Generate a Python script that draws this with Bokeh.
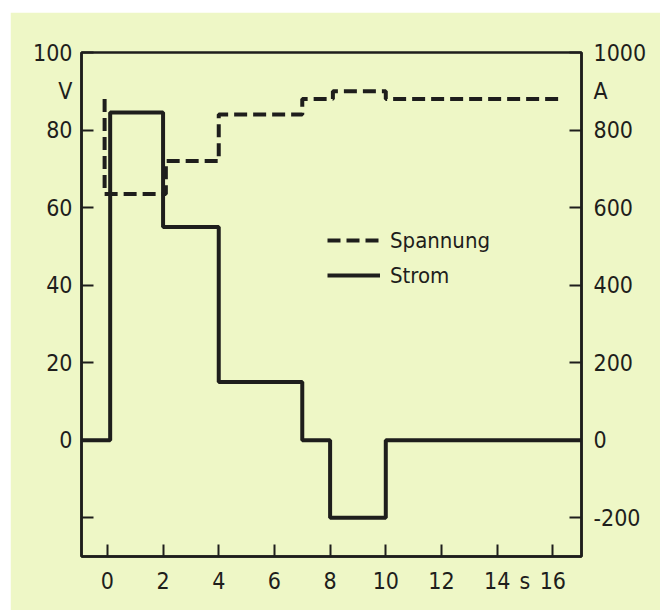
from bokeh.plotting import figure
from bokeh.models import Range1d, LinearAxis, FixedTicker, Legend
from bokeh.embed import file_html
from bokeh.resources import INLINE

# ---- data ----
t_spannung = [-0.1, -0.1, 2.1, 2.1, 4.0, 4.0, 7.0, 7.0, 8.1, 8.1, 10.0, 10.0, 16.2]
spannung_V = [88, 63.5, 63.5, 72, 72, 84, 84, 88, 88, 90, 90, 88, 88]

t_strom = [-0.93, 0.1, 0.1, 2.0, 2.0, 4.0, 4.0, 7.0, 7.0, 8.0, 8.0, 10.0, 10.0, 17.03]
strom_A = [0, 0, 845, 845, 550, 550, 150, 150, 0, 0, -200, -200, 0, 0]

x_ticks = [0, 2, 4, 6, 8, 10, 12, 14, 16]
v_ticks = [-20, 0, 20, 40, 60, 80, 100]
a_ticks = [-200, 0, 200, 400, 600, 800, 1000]

x_labels = {0: "0", 2: "2", 4: "4", 6: "6", 8: "8", 10: "10", 12: "12", 14: "14", 15: "s", 16: "16"}
v_labels = {0: "0", 20: "20", 40: "40", 60: "60", 80: "80", 90: "V", 100: "100"}
a_labels = {-200: "-200", 0: "0", 200: "200", 400: "400", 600: "600", 800: "800",
            900: "A", 1000: "1000"}

BG = "#eef7c6"
INK = "#1e1e1c"
FONT = "'DejaVu Sans Condensed', 'DejaVu Sans', sans-serif"

p = figure(width=650, height=598, output_backend="svg", toolbar_location=None,
           x_range=Range1d(-0.93, 17.03), y_range=Range1d(-30, 100),
           min_border_left=71, min_border_right=79, min_border_top=40,
           min_border_bottom=54, x_axis_type=None, y_axis_type=None)
p.margin = (12, 7, 0, 10)
p.background_fill_color = BG
p.border_fill_color = BG
p.outline_line_color = INK
p.outline_line_width = 2.5
p.grid.visible = False
p.extra_y_ranges = {"A": Range1d(-300, 1000)}


def tick_axis(ticks, **kw):
    ax = LinearAxis(ticker=FixedTicker(ticks=ticks), **kw)
    ax.axis_line_color = INK
    ax.axis_line_width = 2.5
    ax.major_tick_in = 12
    ax.major_tick_out = 0
    ax.major_tick_line_width = 2
    ax.major_tick_line_color = INK
    ax.minor_tick_line_color = None
    ax.major_label_overrides = {t: "" for t in ticks}
    ax.major_label_text_font_size = "0px"
    ax.major_label_standoff = 0
    return ax


def label_axis(labels, standoff, **kw):
    ax = LinearAxis(ticker=FixedTicker(ticks=list(labels.keys())), **kw)
    ax.axis_line_color = None
    ax.major_tick_line_color = None
    ax.minor_tick_line_color = None
    ax.major_tick_in = 0
    ax.major_tick_out = 0
    ax.major_label_overrides = labels
    ax.major_label_text_font = FONT
    ax.major_label_text_font_size = "23px"
    ax.major_label_text_color = INK
    ax.major_label_standoff = standoff
    return ax


p.add_layout(tick_axis(x_ticks), "below")
p.add_layout(label_axis(x_labels, 11), "below")
p.add_layout(tick_axis(v_ticks), "left")
p.add_layout(label_axis(v_labels, 9), "left")
p.add_layout(tick_axis(a_ticks, y_range_name="A"), "right")
p.add_layout(label_axis(a_labels, 12, y_range_name="A"), "right")

r1 = p.line(t_spannung, spannung_V, line_color=INK, line_width=4, line_dash="13 6")
r2 = p.line(t_strom, strom_A, y_range_name="A", line_color=INK, line_width=4)

legend = Legend(items=[("Spannung", [r1]), ("Strom", [r2])], location=(246, 267))
legend.background_fill_alpha = 0
legend.border_line_color = None
legend.padding = 0
legend.margin = 0
legend.spacing = 7
legend.glyph_width = 53
legend.glyph_height = 28
legend.label_height = 28
legend.label_standoff = 10
legend.label_text_font = FONT
legend.label_text_font_size = "22px"
legend.label_text_color = INK
p.add_layout(legend)

open("out.html", "w").write(file_html(p, INLINE))
